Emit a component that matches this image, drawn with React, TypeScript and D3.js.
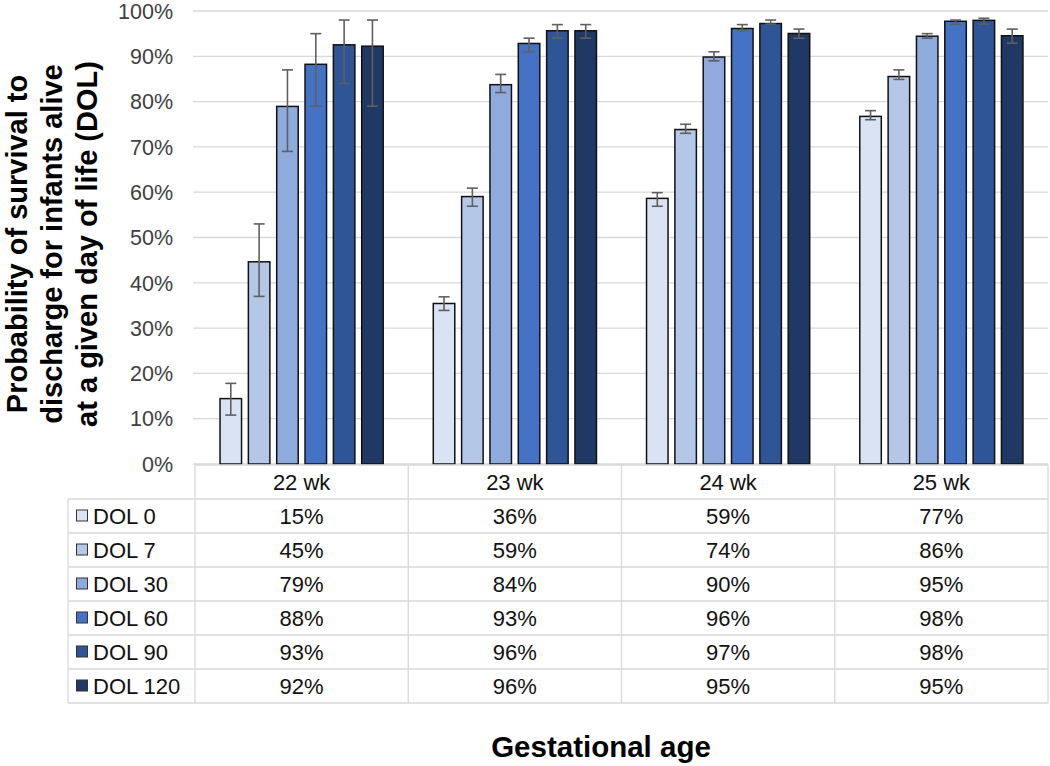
import React from "react";
import * as d3 from "d3";

const categories = ["22 wk", "23 wk", "24 wk", "25 wk"];
const seriesNames = ["DOL 0", "DOL 7", "DOL 30", "DOL 60", "DOL 90", "DOL 120"];
const seriesColors = ["#dae3f3", "#b4c7e7", "#8faadc", "#4472c4", "#2f5597", "#203864"];

// values (%) per series, one per gestational age
const dol0 = [14.6, 35.6, 58.8, 76.9];
const dol7 = [44.8, 59.2, 74.0, 85.7];
const dol30 = [79.1, 83.9, 90.0, 94.6];
const dol60 = [88.4, 93.0, 96.3, 97.9];
const dol90 = [92.7, 95.8, 97.4, 98.1];
const dol120 = [92.4, 95.8, 95.2, 94.7];

// error bar bounds (%)
const dol0Low = [10.8, 33.9, 56.9, 76.0];
const dol0High = [17.8, 36.9, 59.9, 78.0];
const dol7Low = [37.0, 56.9, 73.0, 84.9];
const dol7High = [53.0, 60.9, 75.0, 87.0];
const dol30Low = [69.0, 82.0, 89.0, 94.0];
const dol30High = [87.0, 86.0, 91.0, 95.0];
const dol60Low = [79.0, 91.0, 95.7, 97.1];
const dol60High = [95.0, 94.0, 97.0, 98.0];
const dol90Low = [84.0, 94.0, 97.1, 97.1];
const dol90High = [98.0, 97.0, 98.0, 98.4];
const dol120Low = [79.0, 94.0, 94.0, 92.9];
const dol120High = [98.0, 97.0, 96.0, 96.0];

const yTicks = [0, 10, 20, 30, 40, 50, 60, 70, 80, 90, 100];

const seriesValues = [dol0, dol7, dol30, dol60, dol90, dol120];
const seriesLow = [dol0Low, dol7Low, dol30Low, dol60Low, dol90Low, dol120Low];
const seriesHigh = [dol0High, dol7High, dol30High, dol60High, dol90High, dol120High];

const W = 1050;
const H = 766;
const plotLeft = 195;
const plotRight = 1048;
const plotTop = 11;
const plotBottom = 464;
const tableLeft = 68;
const rowH = 34;
const FONT = "'Liberation Sans', Arial, sans-serif";

export default function App() {
  const x0 = d3.scaleBand<string>().domain(categories).range([plotLeft, plotRight]);
  const y = d3.scaleLinear().domain([0, 100]).range([plotBottom, plotTop]);
  const cw = x0.bandwidth();
  const clusterW = 170;
  const x1 = d3
    .scaleBand<string>()
    .domain(seriesNames)
    .range([cw / 2 - clusterW / 2, cw / 2 + clusterW / 2])
    .paddingInner(0.188)
    .paddingOuter(0.094);
  const bw = x1.bandwidth();
  const sw = 1.5;
  const fmt = (v: number) => `${Math.round(v)}%`;
  const tableTop = plotBottom + 1;
  const gridColor = "#d9d9d9";

  return (
    <div style={{ position: "absolute", left: 0, top: 0 }}>
      <svg width={W} height={H} style={{ display: "block", background: "#fff" }} fontFamily={FONT}>
        {/* gridlines */}
        {yTicks.map((t) => (
          <line key={"g" + t} x1={plotLeft - 2} x2={plotRight} y1={y(t)} y2={y(t)} stroke={gridColor} strokeWidth={1.3} />
        ))}
        {/* y tick labels */}
        {yTicks.map((t) => (
          <text key={"t" + t} x={173} y={y(t)} dy="0.36em" textAnchor="end" fontSize={21.5} fill="#404040">
            {t}%
          </text>
        ))}
        {/* bars */}
        {categories.map((c, ci) => (
          <g key={c} transform={`translate(${x0(c)},0)`}>
            {seriesNames.map((s, si) => {
              const v = seriesValues[si][ci];
              const bx = x1(s)!;
              return (
                <rect
                  key={s}
                  x={bx + sw / 2}
                  y={y(v) + sw / 2}
                  width={bw - sw}
                  height={plotBottom - y(v) - sw / 2}
                  fill={seriesColors[si]}
                  stroke="#111"
                  strokeWidth={sw}
                />
              );
            })}
            {seriesNames.map((s, si) => {
              const cx = x1(s)! + bw / 2;
              const lo = y(seriesLow[si][ci]);
              const hi = y(seriesHigh[si][ci]);
              const cap = 5.5;
              return (
                <g key={"e" + s} stroke="#5f5f5f" strokeWidth={1.6}>
                  <line x1={cx} x2={cx} y1={lo} y2={hi} />
                  <line x1={cx - cap} x2={cx + cap} y1={lo} y2={lo} />
                  <line x1={cx - cap} x2={cx + cap} y1={hi} y2={hi} />
                </g>
              );
            })}
          </g>
        ))}
        {/* data table */}
        <g stroke={gridColor} strokeWidth={1.3} fill="none">
          <line x1={plotLeft} x2={plotRight} y1={tableTop} y2={tableTop} />
          {d3.range(1, 8).map((r) => (
            <line key={"r" + r} x1={tableLeft} x2={plotRight} y1={tableTop + r * rowH} y2={tableTop + r * rowH} />
          ))}
          <line x1={tableLeft} x2={tableLeft} y1={tableTop + rowH} y2={tableTop + 7 * rowH} />
          {categories.map((c) => (
            <line key={"v" + c} x1={x0(c)!} x2={x0(c)!} y1={tableTop} y2={tableTop + 7 * rowH} />
          ))}
          <line x1={plotRight} x2={plotRight} y1={tableTop} y2={tableTop + 7 * rowH} />
        </g>
        {categories.map((c) => (
          <text key={"h" + c} x={x0(c)! + cw / 2} y={tableTop + rowH / 2} dy="0.36em" textAnchor="middle" fontSize={22} fill="#111">
            {c}
          </text>
        ))}
        {seriesNames.map((s, si) => {
          const cy = tableTop + (si + 1) * rowH + rowH / 2;
          return (
            <g key={"row" + s}>
              <rect x={76.5} y={cy - 6} width={11} height={11} fill={seriesColors[si]} stroke="#333" strokeWidth={1} />
              <text x={93} y={cy} dy="0.36em" fontSize={22} fill="#111">
                {s}
              </text>
              {categories.map((c, ci) => (
                <text key={c} x={x0(c)! + cw / 2} y={cy} dy="0.36em" textAnchor="middle" fontSize={22} fill="#111">
                  {fmt(seriesValues[si][ci])}
                </text>
              ))}
            </g>
          );
        })}
        {/* axis titles */}
        <text x={601} y={757} textAnchor="middle" fontSize={29.5} fontWeight="bold" fill="#000">
          Gestational age
        </text>
        <g transform="translate(0,244) rotate(-90)" fontSize={29} fontWeight="bold" fill="#000">
          <text x={0} y={27} textAnchor="middle">Probability of survival to</text>
          <text x={0} y={62} textAnchor="middle">discharge for infants alive</text>
          <text x={0} y={97} textAnchor="middle">at a given day of life (DOL)</text>
        </g>
      </svg>
    </div>
  );
}
